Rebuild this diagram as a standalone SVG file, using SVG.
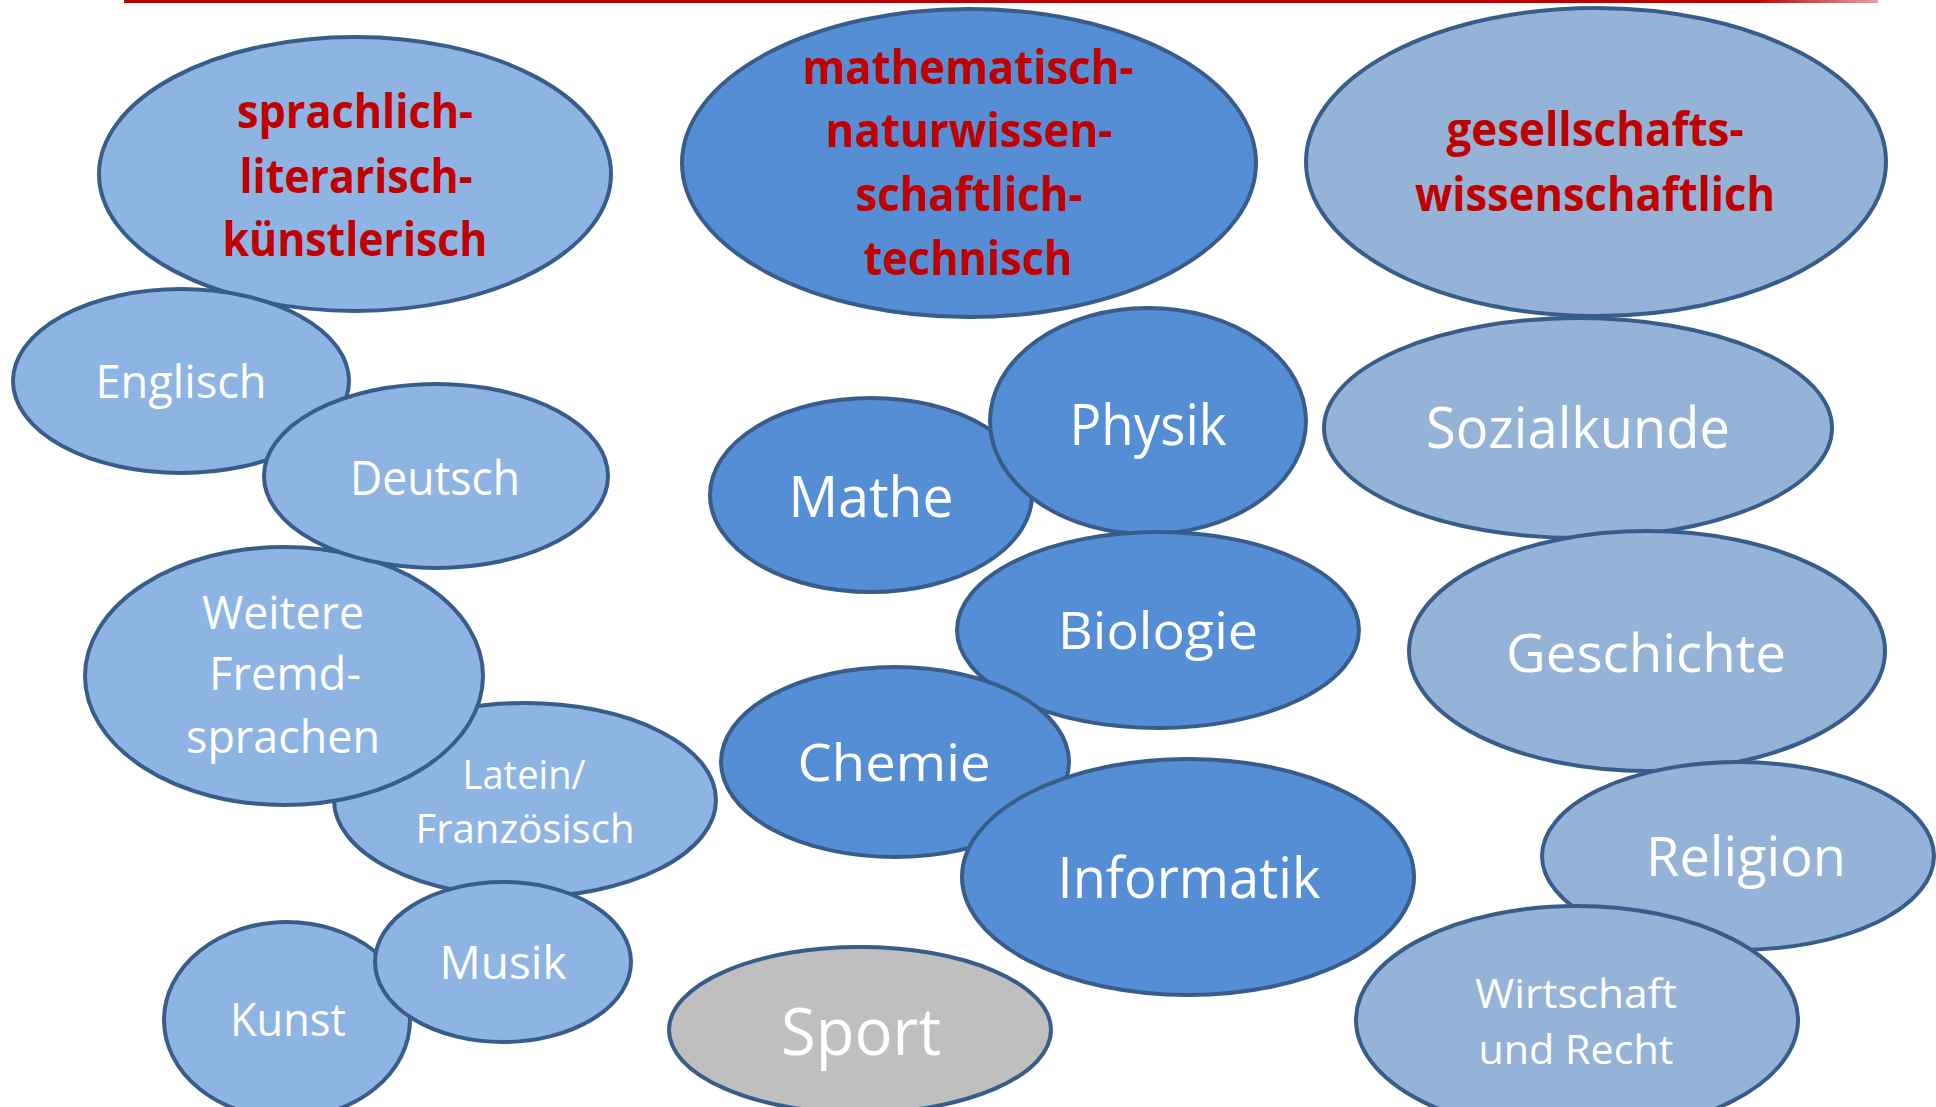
<svg xmlns="http://www.w3.org/2000/svg" width="1936" height="1107" viewBox="0 0 1936 1107">
<defs>
<linearGradient id="redline" x1="0" y1="0" x2="1" y2="0">
<stop offset="0" stop-color="#C00000"/>
<stop offset="0.93" stop-color="#C00000"/>
<stop offset="1" stop-color="#E8A0A0"/>
</linearGradient>
</defs>
<style>
ellipse{stroke:#385D8A;stroke-width:4}
.lang{fill:#8EB4E3}
.mint{fill:#558ED5}
.gesw{fill:#95B3D7}
.sport{fill:#BFBFBF}
text{font-family:"Open Sans","Noto Sans","Liberation Sans",sans-serif;text-anchor:middle}
.w{fill:#FFFFFF}
.h{fill:#C00000;font-weight:bold;font-size:47px}
</style>
<rect x="124" y="0" width="1754" height="3" fill="url(#redline)"/>

<g id="sprachlich">
<ellipse class="lang" cx="355" cy="174" rx="256" ry="137"/>
<text class="h" x="355" y="128" textLength="236" lengthAdjust="spacingAndGlyphs">sprachlich-</text>
<text class="h" x="356" y="193" textLength="233" lengthAdjust="spacingAndGlyphs">literarisch-</text>
<text class="h" x="355" y="256" textLength="265" lengthAdjust="spacingAndGlyphs">künstlerisch</text>
</g>
<g id="mathematisch">
<ellipse class="mint" cx="969" cy="163" rx="287" ry="154"/>
<text class="h" x="968" y="84" textLength="331" lengthAdjust="spacingAndGlyphs">mathematisch-</text>
<text class="h" x="969" y="147" textLength="287" lengthAdjust="spacingAndGlyphs">naturwissen-</text>
<text class="h" x="969" y="211" textLength="227" lengthAdjust="spacingAndGlyphs">schaftlich-</text>
<text class="h" x="968" y="275" textLength="209" lengthAdjust="spacingAndGlyphs">technisch</text>
</g>
<g id="gesellschaftswissenschaftlich">
<ellipse class="gesw" cx="1596" cy="162" rx="290" ry="154"/>
<text class="h" x="1595" y="146" textLength="297" lengthAdjust="spacingAndGlyphs">gesellschafts-</text>
<text class="h" x="1595" y="211" textLength="360" lengthAdjust="spacingAndGlyphs">wissenschaftlich</text>
</g>

<g id="latein">
<ellipse class="lang" cx="525" cy="800" rx="191" ry="97"/>
<text class="w" x="524" y="789" font-size="40" textLength="123" lengthAdjust="spacingAndGlyphs">Latein/</text>
<text class="w" x="525" y="843" font-size="40" textLength="219" lengthAdjust="spacingAndGlyphs">Französisch</text>
</g>
<g id="weitere">
<ellipse class="lang" cx="284" cy="676" rx="199" ry="129"/>
<text class="w" x="283" y="629" font-size="45" textLength="162" lengthAdjust="spacingAndGlyphs">Weitere</text>
<text class="w" x="285" y="690" font-size="45" textLength="152" lengthAdjust="spacingAndGlyphs">Fremd-</text>
<text class="w" x="283" y="753" font-size="45" textLength="194" lengthAdjust="spacingAndGlyphs">sprachen</text>
</g>
<g id="englisch">
<ellipse class="lang" cx="181" cy="381" rx="168" ry="92"/>
<text class="w" x="181" y="398" font-size="45" textLength="171" lengthAdjust="spacingAndGlyphs">Englisch</text>
</g>
<g id="deutsch">
<ellipse class="lang" cx="436" cy="476" rx="172" ry="92"/>
<text class="w" x="435" y="495" font-size="47" textLength="170" lengthAdjust="spacingAndGlyphs">Deutsch</text>
</g>
<g id="kunst">
<ellipse class="lang" cx="287" cy="1020" rx="123" ry="98"/>
<text class="w" x="288" y="1036" font-size="46" textLength="116" lengthAdjust="spacingAndGlyphs">Kunst</text>
</g>
<g id="musik">
<ellipse class="lang" cx="503" cy="962" rx="128" ry="80"/>
<text class="w" x="503" y="979" font-size="45" textLength="127" lengthAdjust="spacingAndGlyphs">Musik</text>
</g>

<g id="sport">
<ellipse class="sport" cx="860" cy="1030" rx="191" ry="83"/>
<text class="w" x="861" y="1055" font-size="66" textLength="160" lengthAdjust="spacingAndGlyphs">Sport</text>
</g>

<g id="mathe">
<ellipse class="mint" cx="871" cy="495" rx="161" ry="97"/>
<text class="w" x="871" y="517" font-size="56" textLength="165" lengthAdjust="spacingAndGlyphs">Mathe</text>
</g>
<g id="physik">
<ellipse class="mint" cx="1148" cy="421" rx="158" ry="113"/>
<text class="w" x="1148" y="445" font-size="56" textLength="157" lengthAdjust="spacingAndGlyphs">Physik</text>
</g>
<g id="biologie">
<ellipse class="mint" cx="1158" cy="630" rx="201" ry="98"/>
<text class="w" x="1158" y="649" font-size="52" textLength="200" lengthAdjust="spacingAndGlyphs">Biologie</text>
</g>
<g id="chemie">
<ellipse class="mint" cx="895" cy="762" rx="174" ry="95"/>
<text class="w" x="894" y="781" font-size="52" textLength="193" lengthAdjust="spacingAndGlyphs">Chemie</text>
</g>
<g id="informatik">
<ellipse class="mint" cx="1188" cy="877" rx="226" ry="118"/>
<text class="w" x="1189" y="898" font-size="56" textLength="263" lengthAdjust="spacingAndGlyphs">Informatik</text>
</g>

<g id="sozialkunde">
<ellipse class="gesw" cx="1578" cy="428" rx="254" ry="110"/>
<text class="w" x="1578" y="448" font-size="57" textLength="304" lengthAdjust="spacingAndGlyphs">Sozialkunde</text>
</g>
<g id="geschichte">
<ellipse class="gesw" cx="1647" cy="651" rx="238" ry="120"/>
<text class="w" x="1646" y="672" font-size="53" textLength="280" lengthAdjust="spacingAndGlyphs">Geschichte</text>
</g>
<g id="religion">
<ellipse class="gesw" cx="1738" cy="856" rx="196" ry="94"/>
<text class="w" x="1746" y="876" font-size="55" textLength="200" lengthAdjust="spacingAndGlyphs">Religion</text>
</g>
<g id="wirtschaft">
<ellipse class="gesw" cx="1577" cy="1020" rx="221" ry="114"/>
<text class="w" x="1576" y="1008" font-size="40" textLength="202" lengthAdjust="spacingAndGlyphs">Wirtschaft</text>
<text class="w" x="1576" y="1064" font-size="40" textLength="195" lengthAdjust="spacingAndGlyphs">und Recht</text>
</g>
<g id="connectors"></g>
</svg>
